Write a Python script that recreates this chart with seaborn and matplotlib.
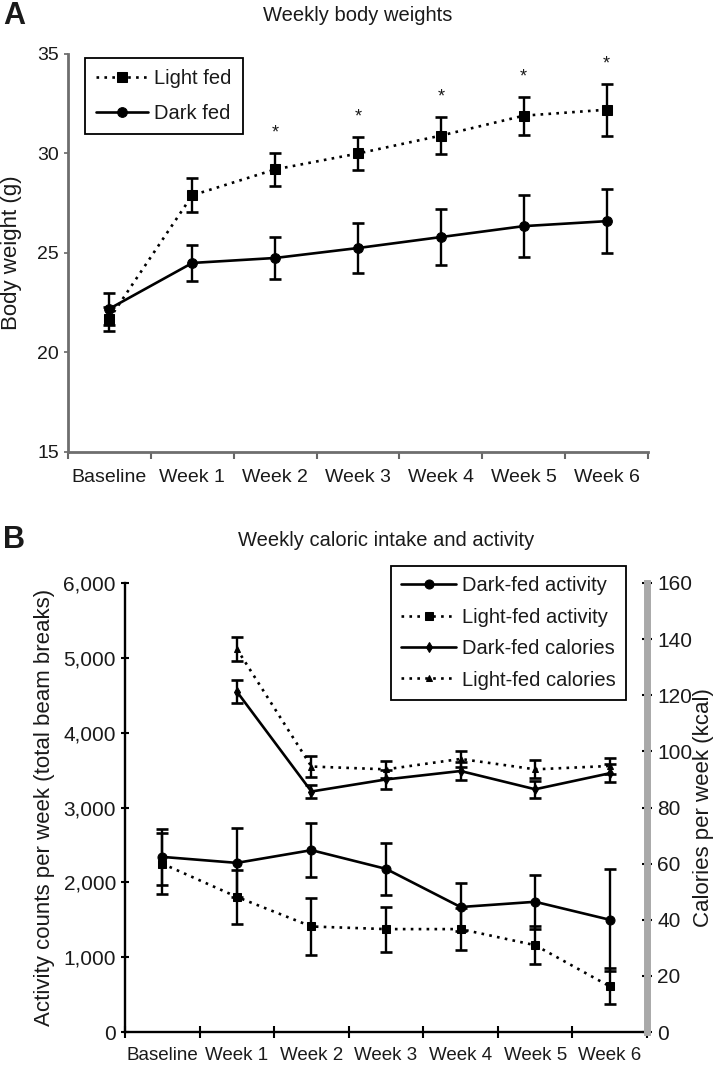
import matplotlib
matplotlib.use("Agg")
import matplotlib.pyplot as plt
import matplotlib.ticker as mticker
import numpy as np
import pandas as pd
import seaborn as sns

# categories
weeks = ["Baseline", "Week 1", "Week 2", "Week 3", "Week 4", "Week 5", "Week 6"]

# panel A: body weight (g), mean and error
light_wt = [21.7, 27.9, 29.2, 30.0, 30.9, 31.9, 32.2]
light_wt_err = [0.6, 0.85, 0.85, 0.85, 0.95, 0.95, 1.3]
dark_wt = [22.2, 24.5, 24.75, 25.25, 25.8, 26.35, 26.6]
dark_wt_err = [0.8, 0.9, 1.05, 1.25, 1.4, 1.55, 1.6]
sig_weeks = ["Week 2", "Week 3", "Week 4", "Week 5", "Week 6"]

# panel B: activity counts per week
dark_act = [2340, 2260, 2430, 2180, 1670, 1740, 1500]
dark_act_err = [375, 460, 360, 350, 320, 360, 680]
light_act = [2250, 1805, 1410, 1375, 1375, 1160, 610]
light_act_err = [410, 360, 380, 300, 280, 250, 240]

# panel B: calories per week (kcal), no baseline value
dark_cal = [np.nan, 121.3, 85.7, 90.0, 93.0, 86.5, 92.2]
dark_cal_err = [np.nan, 4.1, 2.2, 3.4, 3.3, 3.0, 3.2]
light_cal = [np.nan, 136.5, 94.6, 93.6, 97.3, 93.6, 94.8]
light_cal_err = [np.nan, 4.3, 3.6, 3.1, 2.8, 3.2, 2.9]

sns.set_style("ticks")
plt.rcParams['font.family'] = ['Liberation Sans', 'DejaVu Sans']
plt.rcParams['text.color'] = '#1a1a1a'
plt.rcParams['axes.labelcolor'] = '#1a1a1a'
plt.rcParams['xtick.color'] = '#1a1a1a'
plt.rcParams['ytick.color'] = '#1a1a1a'

pos = np.arange(len(weeks))
DOT = (0, (1, 2))

fig = plt.figure(figsize=(7.16, 10.68), dpi=100)
W, H = 716, 1068
axA = fig.add_axes([68 / W, 1 - 452 / H, 580 / W, 398 / H])
axB = fig.add_axes([125 / W, 1 - 1032 / H, 522 / W, 449 / H])


def draw_series(ax, y, err, ls, marker, ms, label):
    df = pd.DataFrame({"x": pos, "y": y}).dropna()
    sns.lineplot(data=df, x="x", y="y", ax=ax, color="black", linestyle=ls,
                 linewidth=1.9, marker=marker, markersize=ms,
                 markeredgecolor="black", markerfacecolor="black", label=label,
                 legend=False)
    ax.errorbar(pos, y, yerr=err, fmt="none", ecolor="black",
                elinewidth=1.7, capsize=4.5, capthick=1.9)


# ---- Panel A ----
draw_series(axA, light_wt, light_wt_err, DOT, "s", 6.5, "Light fed")
draw_series(axA, dark_wt, dark_wt_err, "-", "o", 7, "Dark fed")
for w in sig_weeks:
    i = weeks.index(w)
    axA.text(pos[i], light_wt[i] + light_wt_err[i] + 1.0, "*", ha="center",
             va="center", fontsize=13)

axA.set_xlim(-0.5, 6.5)
axA.set_ylim(15, 35)
axA.set_yticks([15, 20, 25, 30, 35])
axA.set_xticks(pos)
axA.set_xticklabels(weeks, fontsize=14)
axA.set_xticks(np.arange(-0.5, 7, 1), minor=True)
axA.tick_params(axis="x", which="major", length=0, pad=12)
axA.tick_params(axis="x", which="minor", length=5, width=1.5, color="#666666")
axA.tick_params(axis="y", labelsize=14, length=3, width=1.2, color="#666666")
axA.set_xlabel("")
axA.set_ylabel("Body weight (g)", fontsize=16, va="center")
axA.yaxis.set_label_coords((12 - 68) / 580, 0.5)
sns.despine(ax=axA)
for s in ["left", "bottom"]:
    axA.spines[s].set_color("#6e6e6e")
    axA.spines[s].set_linewidth(2)
axA.set_title("Weekly body weights", fontsize=14.5, pad=0, y=1 + 33 / 398)
fig.text(3 / W, 1 - 16 / H, "A", fontsize=22, fontweight="bold", va="center")

legA = axA.legend(loc="upper left", bbox_to_anchor=(85 / W, 1 - 58 / H),
                  bbox_transform=fig.transFigure, fontsize=14.5, frameon=True,
                  fancybox=False, framealpha=1, edgecolor="black",
                  borderaxespad=0, borderpad=0.55, labelspacing=0.8,
                  handlelength=2.6, handletextpad=0.3, numpoints=1)
legA.get_frame().set_linewidth(1.3)

# ---- Panel B ----
axC = axB.twinx()
draw_series(axB, dark_act, dark_act_err, "-", "o", 6.5, "Dark-fed activity")
draw_series(axB, light_act, light_act_err, DOT, "s", 6, "Light-fed activity")
draw_series(axC, dark_cal, dark_cal_err, "-", "d", 5, "Dark-fed calories")
draw_series(axC, light_cal, light_cal_err, DOT, "^", 5, "Light-fed calories")

axB.set_xlim(-0.5, 6.5)
axB.set_ylim(0, 6000)
axB.set_yticks(np.arange(0, 6001, 1000))
axB.yaxis.set_major_formatter(mticker.FuncFormatter(lambda v, p: f"{int(v):,}"))
axC.set_ylim(0, 160)
axC.set_yticks(np.arange(0, 161, 20))
axB.set_xticks(pos)
axB.set_xticklabels(weeks, fontsize=13.5)
axB.set_xticks(np.arange(-0.5, 7, 1), minor=True)
axB.tick_params(axis="x", which="major", length=0, pad=11)
axB.tick_params(axis="x", which="minor", length=9, width=1.5,
                direction="inout", color="black")
axB.tick_params(axis="y", labelsize=15, length=6, width=1.5,
                direction="inout", color="black")
axC.tick_params(axis="y", labelsize=15, length=7, width=1.5,
                direction="inout", color="black", pad=4)
axB.set_xlabel("")
axC.set_xlabel("")
axB.set_ylabel("Activity counts per week (total beam breaks)", fontsize=16,
               va="center")
axB.yaxis.set_label_coords((45 - 125) / 522, 0.5)
axC.set_ylabel("Calories per week (kcal)", fontsize=16, va="center",
               rotation=90)
axC.yaxis.set_label_coords((703 - 125) / 522, 0.5)

for s in ["top", "right"]:
    axB.spines[s].set_visible(False)
for s in ["left", "bottom"]:
    axB.spines[s].set_color("black")
    axB.spines[s].set_linewidth(1.7)
for s in ["top", "left", "bottom"]:
    axC.spines[s].set_visible(False)
axC.spines["right"].set_color("#a9a9a9")
axC.spines["right"].set_linewidth(5)

axB.set_title("Weekly caloric intake and activity", fontsize=14.5, pad=0,
              y=1 + 37 / 449)
fig.text(3 / W, 1 - 540 / H, "B", fontsize=22, fontweight="bold", va="center")

hB, lB = axB.get_legend_handles_labels()
hC, lC = axC.get_legend_handles_labels()
legB = axC.legend(hB + hC, lB + lC, loc="upper left",
                  bbox_to_anchor=(391 / W, 1 - 566 / H),
                  bbox_transform=fig.transFigure, fontsize=14.5, frameon=True,
                  fancybox=False, framealpha=1, edgecolor="black",
                  borderaxespad=0, borderpad=0.5, labelspacing=0.62,
                  handlelength=2.75, handletextpad=0.3, numpoints=1)
legB.get_frame().set_linewidth(1.3)

fig.savefig("out.png", dpi=100)
